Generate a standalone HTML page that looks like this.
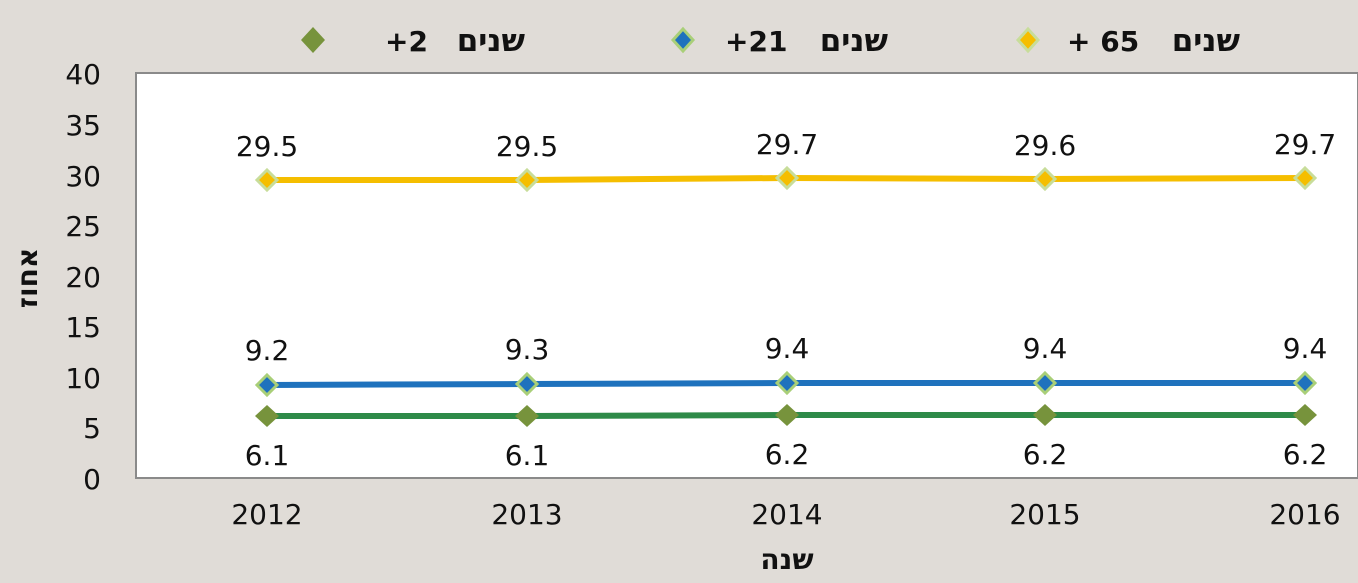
<!DOCTYPE html>
<html><head><meta charset="utf-8"><style>
body{margin:0;background:#e0dcd7;}
svg{display:block}
text{font-family:"DejaVu Sans","Liberation Sans",sans-serif;fill:#111}
</style></head><body>
<svg width="1358" height="583" viewBox="0 0 1358 583">
<rect x="0" y="0" width="1358" height="583" fill="#e0dcd7"/>
<rect x="136" y="73" width="1222" height="405" fill="#fff" stroke="#8a8a8a" stroke-width="2"/>
<g font-size="28" text-anchor="end">
<text x="101" y="84">40</text><text x="101" y="135">35</text><text x="101" y="186">30</text>
<text x="101" y="236">25</text><text x="101" y="287">20</text><text x="101" y="337">15</text>
<text x="101" y="388">10</text><text x="101" y="438">5</text><text x="101" y="489">0</text>
</g>
<g font-size="28" text-anchor="middle">
<text x="267" y="524">2012</text><text x="527" y="524">2013</text><text x="787" y="524">2014</text><text x="1045" y="524">2015</text><text x="1305" y="524">2016</text>
</g>
<text x="787" y="569" font-size="28" font-weight="bold" text-anchor="middle">שנה</text>
<text transform="translate(37,278) rotate(-90)" font-size="28" font-weight="bold" text-anchor="middle">אחוז</text>
<polyline points="267,180 527,180 787,178 1045,179 1305,178" fill="none" stroke="#f5be00" stroke-width="6"/>
<polyline points="267,385 527,384 787,383 1045,383 1305,383" fill="none" stroke="#1f72bd" stroke-width="6"/>
<polyline points="267,416 527,416 787,415 1045,415 1305,415" fill="none" stroke="#2e8a48" stroke-width="6"/>
<g stroke="#c8dd9a" stroke-width="3" fill="#f5be00">
<path d="M267 170l10 10-10 10-10-10z"/><path d="M527 170l10 10-10 10-10-10z"/><path d="M787 168l10 10-10 10-10-10z"/><path d="M1045 169l10 10-10 10-10-10z"/><path d="M1305 168l10 10-10 10-10-10z"/>
</g>
<g stroke="#a9cf78" stroke-width="3" fill="#1f72bd">
<path d="M267 375l10 10-10 10-10-10z"/><path d="M527 374l10 10-10 10-10-10z"/><path d="M787 373l10 10-10 10-10-10z"/><path d="M1045 373l10 10-10 10-10-10z"/><path d="M1305 373l10 10-10 10-10-10z"/>
</g>
<g fill="#77933c">
<path d="M267 405l12 11-12 11-12-11z"/><path d="M527 405l12 11-12 11-12-11z"/><path d="M787 404l12 11-12 11-12-11z"/><path d="M1045 404l12 11-12 11-12-11z"/><path d="M1305 404l12 11-12 11-12-11z"/>
</g>
<g font-size="28" text-anchor="middle">
<text x="267" y="156">29.5</text><text x="527" y="156">29.5</text><text x="787" y="154">29.7</text><text x="1045" y="155">29.6</text><text x="1305" y="154">29.7</text>
<text x="267" y="360">9.2</text><text x="527" y="359">9.3</text><text x="787" y="358">9.4</text><text x="1045" y="358">9.4</text><text x="1305" y="358">9.4</text>
<text x="267" y="465">6.1</text><text x="527" y="465">6.1</text><text x="787" y="464">6.2</text><text x="1045" y="464">6.2</text><text x="1305" y="464">6.2</text>
</g>
<g font-size="28" font-weight="bold">
<path d="M313 27l12 13-12 13-12-13z" fill="#77933c"/>
<text x="385" y="51">+2</text>
<text x="525" y="51" text-anchor="end" font-size="31">שנים</text>
<path d="M683 29l10 11-10 11-10-11z" fill="#1f72bd" stroke="#a9cf78" stroke-width="3"/>
<text x="725" y="51">+21</text>
<text x="888" y="51" text-anchor="end" font-size="31">שנים</text>
<path d="M1028 29l10 11-10 11-10-11z" fill="#f5be00" stroke="#c8dd9a" stroke-width="3"/>
<text x="1067" y="51" xml:space="preserve">+ 65</text>
<text x="1240" y="51" text-anchor="end" font-size="31">שנים</text>
</g>
</svg>
</body></html>
